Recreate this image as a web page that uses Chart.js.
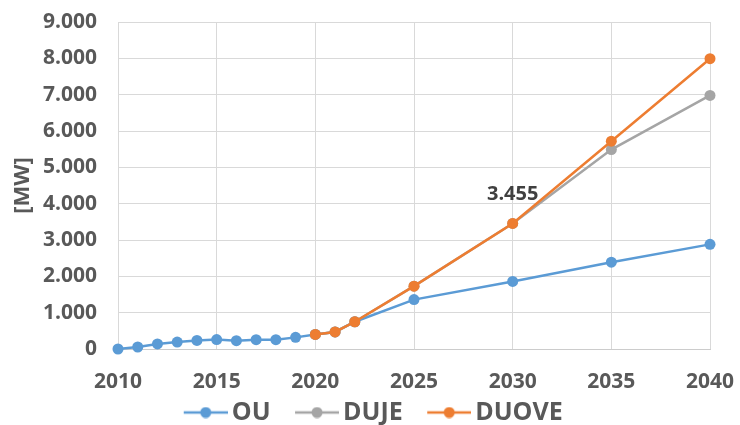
<!DOCTYPE html>
<html>
<head>
<meta charset="utf-8">
<script src="https://cdn.jsdelivr.net/npm/chart.js@4"></script>
<style>
  html, body { margin: 0; padding: 0; background: #fff; }
  #wrap { width: 740px; height: 425px; position: relative; }
</style>
</head>
<body>
<div id="wrap"><canvas id="capacityChart"></canvas></div>
<script>
  // years on the x axis (linear scale, yearly until 2022 then every 5 years)
  const years = [2010, 2011, 2012, 2013, 2014, 2015, 2016, 2017, 2018, 2019, 2020, 2021, 2022, 2025, 2030, 2035, 2040];

  // installed capacity in MW
  const ou    = [0, 55, 140, 190, 235, 260, 230, 255, 255, 320, 400, 470, 750, 1360, 1860, 2390, 2880];
  const duje  = [null, null, null, null, null, null, null, null, null, null, 400, 470, 750, 1730, 3455, 5490, 6980];
  const duove = [null, null, null, null, null, null, null, null, null, null, 400, 470, 750, 1730, 3455, 5720, 7990];

  const seriesNames = ['OU', 'DUJE', 'DUOVE'];
  const seriesColors = ['#5b9bd5', '#a5a5a5', '#ed7d31'];
  const labelledYear = 2030;

  function toPoints(values) {
    return years.map(function (year, i) {
      return { x: year, y: values[i] };
    });
  }

  function formatNumber(v) {
    return Number(v).toLocaleString('de-DE');
  }

  // line + dot picture for the legend, drawn in the right part of the image
  function legendMarker(color) {
    const c = document.createElement('canvas');
    c.width = 67;
    c.height = 12;
    const ctx = c.getContext('2d');
    ctx.strokeStyle = color;
    ctx.lineWidth = 2.5;
    ctx.beginPath();
    ctx.moveTo(23, 6);
    ctx.lineTo(67, 6);
    ctx.stroke();
    ctx.fillStyle = color;
    ctx.beginPath();
    ctx.arc(45, 6, 5.5, 0, Math.PI * 2);
    ctx.fill();
    return c;
  }
  const markers = seriesColors.map(legendMarker);

  // value label above the DUOVE point in 2030
  const valueLabel = {
    id: 'valueLabel',
    afterDatasetsDraw(chart) {
      const idx = years.indexOf(labelledYear);
      const point = chart.getDatasetMeta(2).data[idx];
      const ctx = chart.ctx;
      ctx.save();
      ctx.font = 'bold 20px "Open Sans"';
      ctx.fillStyle = '#404040';
      ctx.textAlign = 'center';
      ctx.textBaseline = 'middle';
      ctx.fillText(formatNumber(duove[idx]), point.x, point.y - 29);
      ctx.restore();
    }
  };

  // nudge the legend a little to the right, like the original
  const legendShift = {
    id: 'legendShift',
    afterLayout(chart) {
      chart.legend.left += 11;
      chart.legend.right += 11;
    }
  };

  Chart.defaults.font.family = '"Open Sans", sans-serif';
  Chart.defaults.color = '#595959';

  const datasetValues = [ou, duje, duove];

  new Chart(document.getElementById('capacityChart'), {
    type: 'line',
    data: {
      datasets: datasetValues.map(function (values, i) {
        return {
          label: seriesNames[i],
          data: toPoints(values),
          borderColor: seriesColors[i],
          backgroundColor: seriesColors[i],
          borderWidth: 2.5,
          pointRadius: 5.5,
          pointHoverRadius: 5.5,
          pointBorderWidth: 0,
          tension: 0,
          clip: false,
          order: 3 - i
        };
      })
    },
    options: {
      responsive: true,
      maintainAspectRatio: false,
      animation: false,
      layout: {
        padding: { left: 0, right: 30, top: 22, bottom: -10 }
      },
      scales: {
        x: {
          type: 'linear',
          min: 2010,
          max: 2040,
          grid: { color: '#d9d9d9', drawTicks: false },
          border: { color: '#cccccc' },
          ticks: {
            stepSize: 5,
            padding: 20,
            font: { size: 21, weight: 'bold' },
            callback: function (v) { return String(v); }
          },
          afterFit: function (scale) {
            scale.height = 41;
            scale.paddingLeft = 0;
            scale.paddingRight = 0;
          }
        },
        y: {
          min: 0,
          max: 9000,
          grid: { color: '#d9d9d9', drawTicks: false },
          border: { display: false },
          ticks: {
            stepSize: 1000,
            padding: 21,
            font: { size: 21, weight: 'bold' },
            callback: function (v) { return formatNumber(v); }
          },
          title: {
            display: true,
            text: '[MW]',
            padding: { top: 10, bottom: 0 },
            font: { size: 22, weight: 'bold' }
          },
          afterFit: function (scale) {
            scale.width = 118;
            scale.paddingTop = 0;
            scale.paddingBottom = 0;
          }
        }
      },
      plugins: {
        tooltip: { enabled: false },
        legend: {
          position: 'bottom',
          labels: {
            usePointStyle: true,
            pointStyleWidth: 50,
            padding: 10,
            font: { size: 25, weight: 'bold' },
            color: '#595959',
            sort: function (a, b) { return a.datasetIndex - b.datasetIndex; },
            generateLabels: function (chart) {
              const items = Chart.defaults.plugins.legend.labels.generateLabels(chart);
              items.forEach(function (item) { item.pointStyle = markers[item.datasetIndex]; });
              return items;
            }
          }
        }
      }
    },
    plugins: [valueLabel, legendShift]
  });
</script>
</body>
</html>
